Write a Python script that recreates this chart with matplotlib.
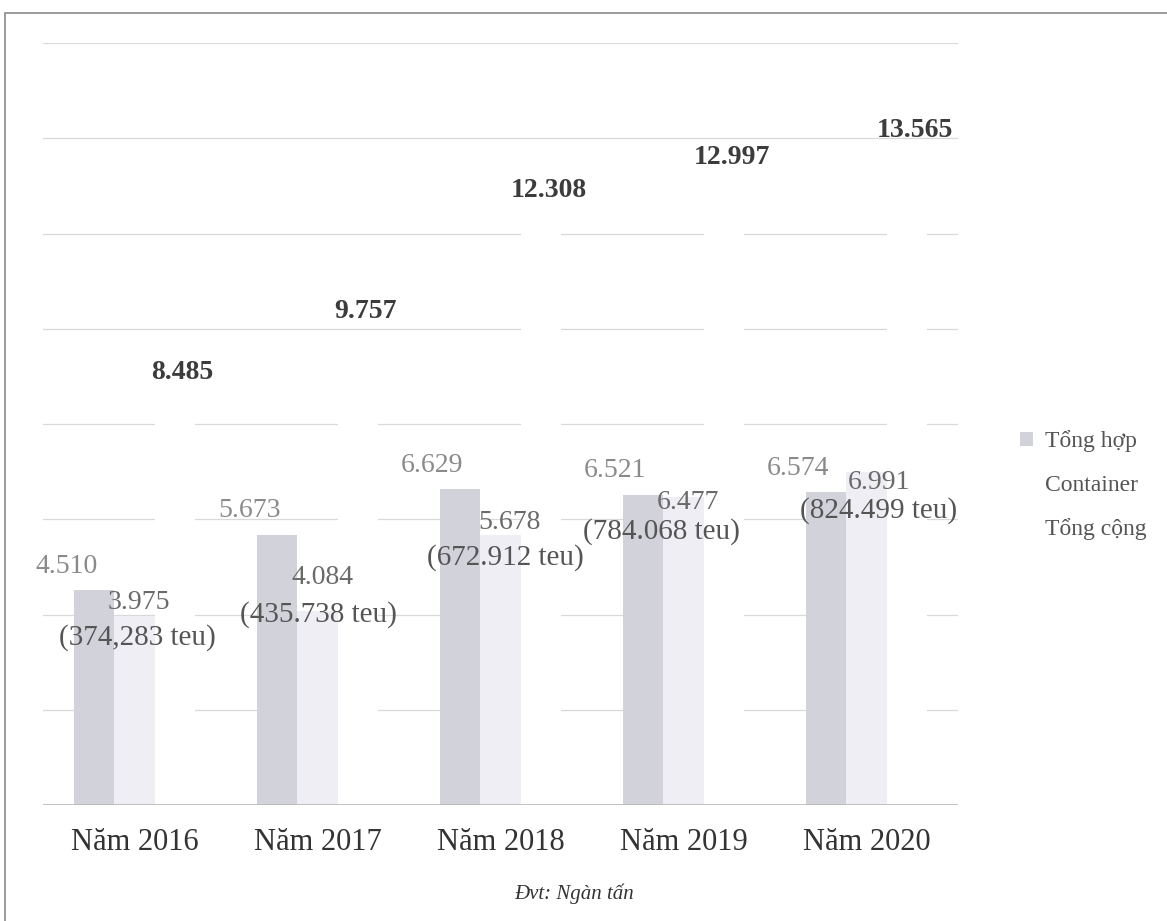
import matplotlib
matplotlib.use('Agg')
import matplotlib.pyplot as plt
import numpy as np
from matplotlib.patches import Patch, Rectangle

# --- data (Đvt: Ngàn tấn) ---
years = ['Năm 2016', 'Năm 2017', 'Năm 2018', 'Năm 2019', 'Năm 2020']
tong_hop = [4.510, 5.673, 6.629, 6.521, 6.574]
container = [3.975, 4.084, 5.678, 6.477, 6.991]
tong_cong = [8.485, 9.757, 12.308, 12.997, 13.565]
container_teu = ['(374,283 teu)', '(435.738 teu)', '(672.912 teu)',
                 '(784.068 teu)', '(824.499 teu)']
series_names = ['Tổng hợp', 'Container', 'Tổng cộng']

# --- label nudges in pixels (labels were hand placed in the original) ---
cont_val_nudge = [(4, 13), (5, 33), (9, 12), (5, -6), (13, -10)]
cont_teu_nudge = [(3, -22), (1, -4), (5, -23), (-22, -35), (12, -38)]

plt.rcParams['font.family'] = ['Liberation Serif', 'DejaVu Serif']

C_TH = '#d2d2db'
C_CT = '#eeeef4'
C_TC = '#ffffff'

fig = plt.figure(figsize=(11.67, 9.21), dpi=100)
fig.patch.set_facecolor('white')
ax = fig.add_axes([0.0368, 0.126, 0.784, 0.827])

x = np.arange(len(years))
w = 0.22
ax.bar(x - w, tong_hop, w, color=C_TH, zorder=2)
ax.bar(x, container, w, color=C_CT, zorder=2)
ax.bar(x + w, tong_cong, w, color=C_TC, zorder=2)

ax.set_xlim(-0.5, len(years) - 0.5)
ax.set_ylim(0, 16)
ax.set_yticks(np.arange(0, 17, 2))
ax.yaxis.grid(True, color='#d9d9d9', linewidth=0.9, zorder=0)
ax.set_axisbelow(True)
ax.tick_params(axis='y', left=False, labelleft=False)
ax.tick_params(axis='x', bottom=False, pad=13)
ax.set_xticks(x)
ax.set_xticklabels(years, fontsize=22, color='#333333')
for s in ax.spines.values():
    s.set_visible(False)
ax.axhline(0, color='#b8b8b8', linewidth=1.2, zorder=3)

# value labels
for i in range(len(years)):
    ax.annotate(f'{tong_hop[i]:.3f}', (x[i] - w, tong_hop[i]),
                xytext=(-28, 24), textcoords='offset pixels',
                ha='center', va='center', fontsize=20, color='#8a8a8a')
    dx, dy = cont_val_nudge[i]
    ax.annotate(f'{container[i]:.3f}', (x[i], container[i]),
                xytext=(dx, dy), textcoords='offset pixels',
                ha='center', va='center', fontsize=20, color='#6a6a6a')
    dx, dy = cont_teu_nudge[i]
    ax.annotate(container_teu[i], (x[i], container[i]),
                xytext=(dx, dy), textcoords='offset pixels',
                ha='center', va='center', fontsize=21, color='#555555')
    ax.annotate(f'{tong_cong[i]:.3f}', (x[i] + w, tong_cong[i]),
                xytext=(8, 29), textcoords='offset pixels',
                ha='center', va='center', fontsize=20, color='#3c3c3c',
                fontweight='bold')

# legend
handles = [Patch(facecolor=C_TH), Patch(facecolor='white'), Patch(facecolor='white')]
fig.legend(handles, series_names, loc='upper left', bbox_to_anchor=(0.856, 0.556),
           frameon=False, fontsize=17, labelcolor='#555555',
           handlelength=0.55, handleheight=0.55, handletextpad=0.5, labelspacing=0.95)

fig.text(0.492, 0.03, 'Đvt: Ngàn tấn', ha='center', va='center',
         fontsize=15, style='italic', color='#333333')

# scanned frame border
fig.add_artist(Rectangle((5 / 1167, -0.05), 1.2, 0.05 + (921 - 13) / 921,
                         transform=fig.transFigure, fill=False,
                         edgecolor='#8a8a8a', linewidth=1.2))

fig.savefig('out.png', dpi=100, facecolor=fig.get_facecolor())
